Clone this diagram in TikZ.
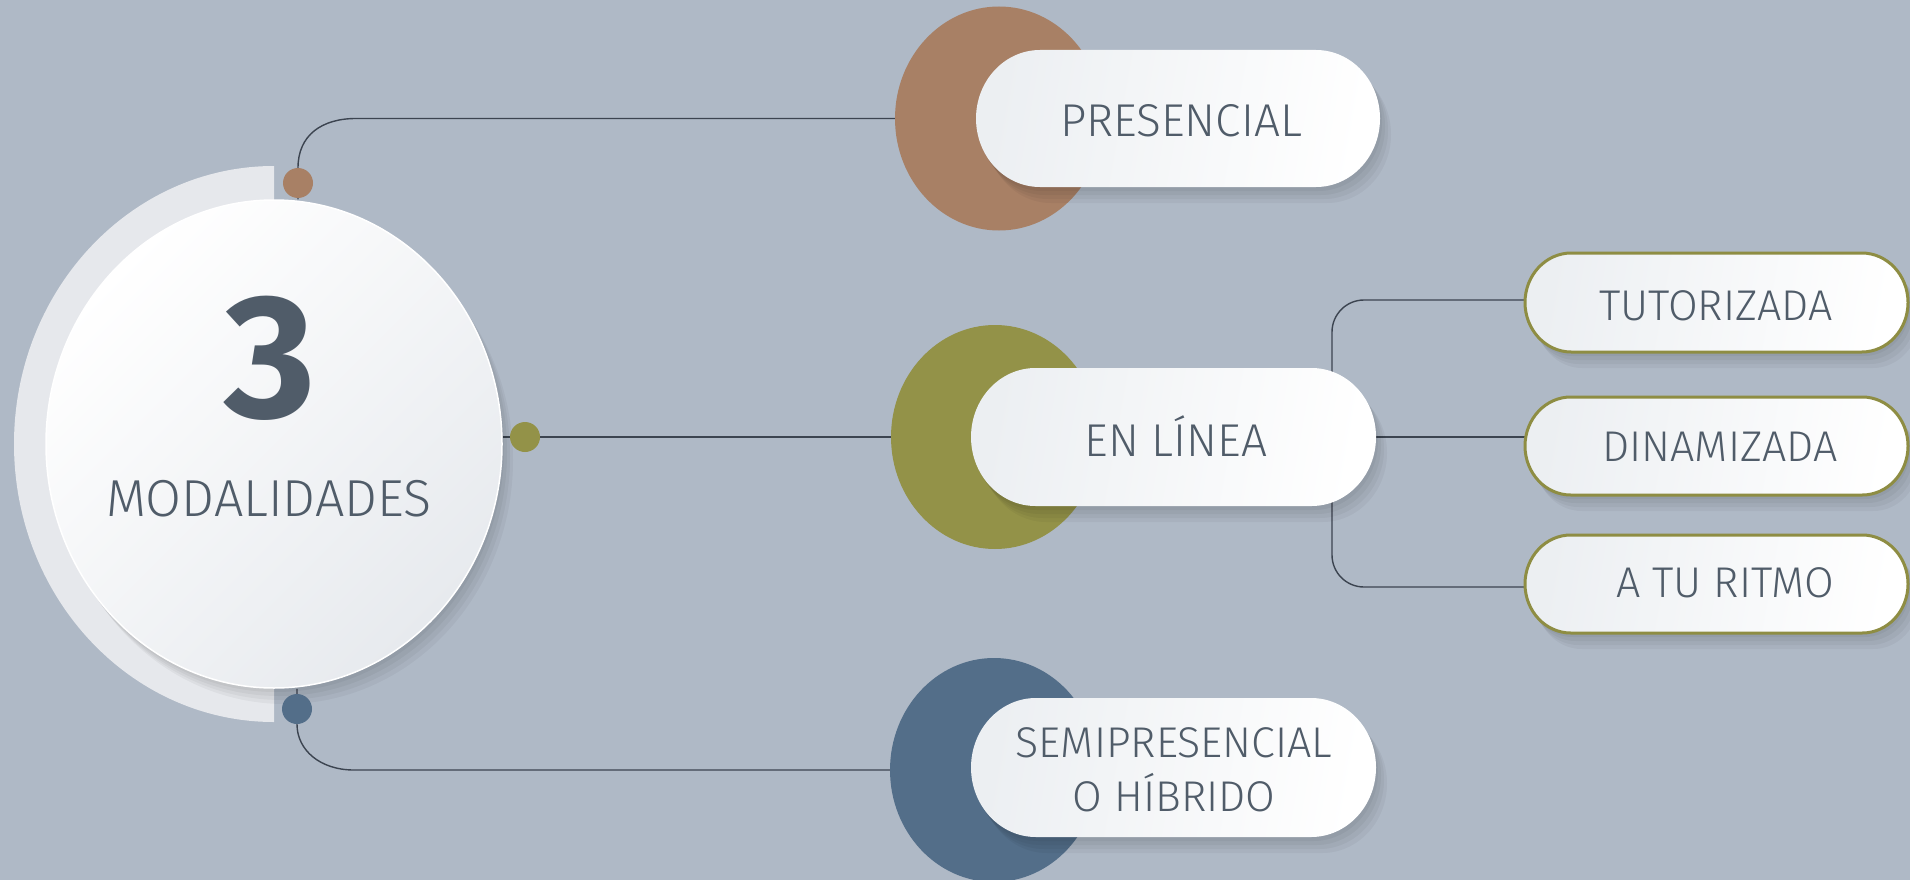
\documentclass[tikz,border=0pt]{standalone}
\usepackage{fontspec}
\setmainfont{Fira Sans}[UprightFont={* Light}, BoldFont={* Bold}]
\usetikzlibrary{shapes.geometric, shadows}
\definecolor{bgc}{HTML}{AFB9C6}
\definecolor{txtc}{HTML}{505C69}
\definecolor{linec}{HTML}{3C4450}
\definecolor{cbrown}{HTML}{A88065}
\definecolor{colive}{HTML}{939248}
\definecolor{cblue}{HTML}{536E89}
\definecolor{halfg}{HTML}{E6E8EC}
\definecolor{pillL}{HTML}{ECEFF2}
\definecolor{mainR}{HTML}{E7EAEE}
\definecolor{olivebd}{HTML}{8E8D43}
\pgfdeclarelayer{bg}
\pgfsetlayers{bg,main}
\tikzset{
  softshadow/.style={
    general shadow={fill=black, opacity=0.04, shadow xshift=2pt, shadow yshift=-4pt},
    general shadow={fill=black, opacity=0.04, shadow xshift=5pt, shadow yshift=-8pt},
    general shadow={fill=black, opacity=0.04, shadow xshift=8pt, shadow yshift=-12pt},
    general shadow={fill=black, opacity=0.04, shadow xshift=11pt, shadow yshift=-16pt}},
  conn/.style={draw=linec, line width=1.4pt},
  dotnode/.style={circle, inner sep=0, minimum size=30pt, fill=#1},
  bigc/.style={ellipse, inner sep=0, minimum width=208pt, minimum height=224pt, fill=#1},
  mainlbl/.style={text=txtc, inner sep=0, text height=32pt, text depth=0pt,
    font=\fontsize{46}{54}\selectfont},
  sublbl/.style={text=txtc, inner sep=0, text height=30pt, text depth=0pt,
    font=\fontsize{43}{54}\selectfont},
  pillshade/.style={left color=pillL, right color=white, shading angle=80, softshadow},
}
\newcommand\pill[5][]{%
  \pgfmathsetmacro\pry{(#5-#3)/2}\pgfmathsetmacro\prx{0.934*\pry}%
  \shade[#1] ({#2+\prx},#3) -- ({#4-\prx},#3)
    arc[start angle=-90,end angle=90,x radius=\prx,y radius=\pry]
    -- ({#2+\prx},#5)
    arc[start angle=90,end angle=270,x radius=\prx,y radius=\pry] -- cycle;}
\begin{document}
\begin{tikzpicture}[x=1pt,y=-1pt]
\useasboundingbox (0,0) rectangle (1910,880);
% left half disk
\fill[halfg] (274,166) arc[start angle=270,end angle=90,x radius=260,y radius=278] -- cycle;
% main ellipse
\node[ellipse, inner sep=0, minimum width=456pt, minimum height=488pt,
  top color=white, bottom color=mainR, shading angle=45,
  draw=white, line width=1.5pt, softshadow] (main) at (274,444) {};
\node[text=txtc, inner sep=0, font=\fontsize{176}{180}\selectfont\bfseries] (three) at (270,358) {3};
\node[text=txtc, inner sep=0, text height=36pt, text depth=0pt,
  font=\fontsize{52}{60}\selectfont] (modal) at (269,498) {MODALIDADES};
% dots
\node[dotnode=cbrown] (dotP) at (298,183) {};
\node[dotnode=colive] (dotE) at (525,437) {};
\node[dotnode=cblue] (dotS) at (297,709) {};
% big colored circles
\node[bigc=cbrown] (cP) at (999,118.5) {};
\node[bigc=colive] (cE) at (995,437) {};
\node[bigc=cblue] (cS) at (994,770) {};
% pills
\pill[pillshade]{976}{50}{1380}{187}
\pill[pillshade]{971}{368}{1376}{506}
\pill[pillshade]{971}{698}{1376}{837}
\node[inner sep=0, minimum width=404pt, minimum height=137pt] (pres) at (1178,118.5) {};
\node[inner sep=0, minimum width=405pt, minimum height=138pt] (enl) at (1173.5,437) {};
\node[inner sep=0, minimum width=405pt, minimum height=139pt] (semi) at (1173.5,767.5) {};
\node[mainlbl] (presT) at (1181,120) {PRESENCIAL};
\node[mainlbl] (enlT) at (1176,440) {EN LÍNEA};
\node[text=txtc, inner sep=0, align=center, font=\fontsize{43}{54}\selectfont] (semiT) at (1174,770) {SEMIPRESENCIAL\\O HÍBRIDO};
% sub pills
\pill[draw=olivebd, line width=3pt, pillshade]{1525}{253}{1908}{352}
\pill[draw=olivebd, line width=3pt, pillshade]{1525}{397}{1908}{495}
\pill[draw=olivebd, line width=3pt, pillshade]{1525}{535}{1908}{633}
\node[inner sep=0, minimum width=383pt, minimum height=99pt] (tut) at (1716.5,302.5) {};
\node[inner sep=0, minimum width=383pt, minimum height=98pt] (din) at (1716.5,446) {};
\node[inner sep=0, minimum width=383pt, minimum height=98pt] (rit) at (1716.5,584) {};
\node[sublbl] (tutT) at (1716,305) {TUTORIZADA};
\node[sublbl] (dinT) at (1720,446) {DINAMIZADA};
\node[sublbl] (ritT) at (1725,582) {A TU RITMO};
\coordinate (vx) at (1332,437);
\coordinate (tP) at (356,118.5);
\coordinate (bS) at (354,770);
% connectors
\begin{pgfonlayer}{bg}
\fill[bgc] (0,0) rectangle (1910,880);
\draw[conn] (main.north -| dotP) -- (dotP.north) .. controls (298,135) and (322,118.5) .. (tP) -- (cP.west);
\draw[conn] (dotE -| main.east) -- (dotE.center) -- (cE.west);
\draw[conn] (main.south -| dotS) -- (dotS.south) .. controls (297,750) and (320,770) .. (bS) -- (cS.west);
\draw[conn] (enl.east) -- (enl.east -| din.west);
\draw[conn, rounded corners=32pt] (tut.west |- 0,300) -- (vx |- 0,300) -- (vx |- 0,587) -- (rit.west |- 0,587);
\end{pgfonlayer}
\end{tikzpicture}
\end{document}
